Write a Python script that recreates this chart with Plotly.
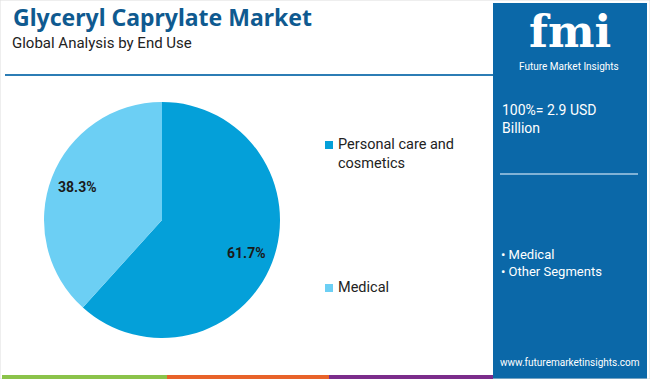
import math
import plotly.graph_objects as go

title = "Glyceryl Caprylate Market"
subtitle = "Global Analysis by End Use"
segments = ["Personal care and cosmetics", "Medical"]
legend_lines = ["Personal care and<br>cosmetics", "Medical"]
shares = [61.7, 38.3]
colors = ["#04A0D9", "#6CCFF4"]
total_text = "100%= 2.9 USD<br>Billion"
other_items = ["• Medical", "• Other Segments"]
website = "www.futuremarketinsights.com"
bar_colors = ["#8BC34A", "#E8632A", "#7B2D8B"]

W, H = 650, 379
def px(x): return x / W
def py(y): return 1 - y / H

# pie geometry (pixels)
cx, cy, R = 162, 220, 118

fig = go.Figure()
fig.add_trace(go.Pie(
    labels=segments, values=shares, sort=False, direction="clockwise",
    marker=dict(colors=colors, line=dict(width=0)),
    textinfo="none",
    domain=dict(x=[px(cx - R), px(cx + R)], y=[py(cy + R), py(cy - R)]),
    showlegend=False, hoverinfo="label+percent",
))

shapes = []
ann = []

# percentage labels placed along each slice's mid-angle
total = sum(shares)
cum = 0
for v in shares:
    mid = (cum + v / 2) / total * 2 * math.pi  # clockwise from 12 o'clock
    cum += v
    lx = cx + 0.77 * R * math.sin(mid)
    ly = cy - 0.77 * R * math.cos(mid)
    ann.append(dict(text="<b>%.1f%%</b>" % v, xref="paper", yref="paper", x=px(lx), y=py(ly),
                    xanchor="center", yanchor="middle", showarrow=False,
                    font=dict(family="Roboto, Arial", size=14, color="#1a1a1a")))

# outer border
shapes.append(dict(type="rect", xref="paper", yref="paper", x0=0, x1=1, y0=0, y1=1,
                   line=dict(color="#DDDDDD", width=1), fillcolor="rgba(0,0,0,0)"))
# right panel
shapes.append(dict(type="rect", xref="paper", yref="paper", x0=px(493), x1=px(647), y0=0, y1=py(3),
                   line=dict(width=0), fillcolor="#0B68A8", layer="below"))
# title rule
shapes.append(dict(type="line", xref="paper", yref="paper", x0=px(5), x1=px(493), y0=py(75), y1=py(75),
                   line=dict(color="#2C7DB5", width=2)))
# panel divider
shapes.append(dict(type="line", xref="paper", yref="paper", x0=px(500), x1=px(638), y0=py(174), y1=py(174),
                   line=dict(color="#A9CBE6", width=1.5)))
# bottom colour bar
seg_edges = [2, 167, 329, 493]
for i, c in enumerate(bar_colors):
    shapes.append(dict(type="rect", xref="paper", yref="paper", x0=px(seg_edges[i]), x1=px(seg_edges[i+1]),
                       y0=0, y1=py(375), line=dict(width=0), fillcolor=c))

# legend (manual)
leg_y = [145, 288]
for i, (lab, c) in enumerate(zip(legend_lines, colors)):
    y = leg_y[i]
    shapes.append(dict(type="rect", xref="paper", yref="paper", x0=px(325), x1=px(333),
                       y0=py(y + 4), y1=py(y - 4), line=dict(width=0), fillcolor=c))
    ann.append(dict(text=lab, xref="paper", yref="paper", x=px(336), y=py(y - 11), xanchor="left",
                    yanchor="top", showarrow=False, align="left",
                    font=dict(family="Roboto, Arial", size=14.5, color="#222222")))

ann.append(dict(text="<b>" + title + "</b>", xref="paper", yref="paper", x=px(11), y=py(17),
                xanchor="left", yanchor="middle", showarrow=False,
                font=dict(family="Noto Sans, Arial", size=23, color="#0F5A90")))
ann.append(dict(text=subtitle, xref="paper", yref="paper", x=px(10), y=py(43),
                xanchor="left", yanchor="middle", showarrow=False,
                font=dict(family="Roboto, Arial", size=15, color="#222222")))

# logo
ann.append(dict(text="<b>fmi</b>", xref="paper", yref="paper", x=px(570), y=py(31),
                xanchor="center", yanchor="middle", showarrow=False,
                font=dict(family="DejaVu Serif, serif", size=44, color="#FFFFFF")))
ann.append(dict(text="Future Market Insights", xref="paper", yref="paper", x=px(569), y=py(67),
                xanchor="center", yanchor="middle", showarrow=False,
                font=dict(family="Roboto, Arial", size=10, color="#FFFFFF")))

ann.append(dict(text=total_text, xref="paper", yref="paper", x=px(500), y=py(100),
                xanchor="left", yanchor="top", showarrow=False, align="left",
                font=dict(family="Roboto, Arial", size=14, color="#FFFFFF")))
ann.append(dict(text="<br>".join(other_items), xref="paper", yref="paper", x=px(499), y=py(245),
                xanchor="left", yanchor="top", showarrow=False, align="left",
                font=dict(family="Roboto, Arial", size=13, color="#FFFFFF")))
ann.append(dict(text=website, xref="paper", yref="paper", x=px(570), y=py(362),
                xanchor="center", yanchor="middle", showarrow=False,
                font=dict(family="Roboto, Arial", size=10, color="#FFFFFF")))

fig.update_layout(width=W, height=H, margin=dict(l=0, r=0, t=0, b=0),
                  paper_bgcolor="white", plot_bgcolor="white",
                  shapes=shapes, annotations=ann)
fig.write_html("out.html", config={"displayModeBar": False},
               post_script="document.body.style.margin='0';")
